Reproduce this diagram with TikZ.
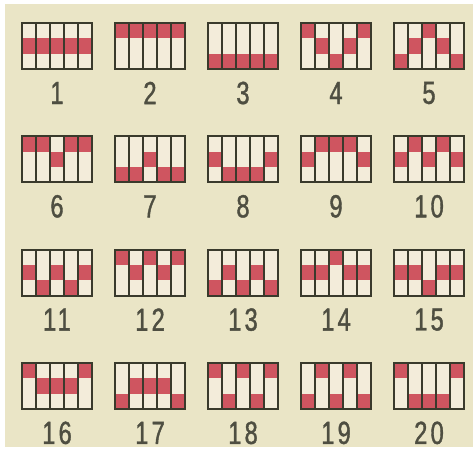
\documentclass[tikz,border=0pt]{standalone}
\usepackage{fontspec}
\newfontfamily\numfont[FakeStretch=0.74,LetterSpace=10,FakeBold=1.2]{Liberation Sans}
\usetikzlibrary{positioning}
\definecolor{paper}{HTML}{EAE5C6}
\definecolor{cellred}{HTML}{CF5560}
\definecolor{cellpale}{HTML}{F3ECDA}
\definecolor{ink}{HTML}{3A3A2C}

\begin{document}
\begin{tikzpicture}[x=1pt,y=-1pt,
  cellbox/.style={draw=ink,line width=1.9pt},
  colline/.style={draw=ink,line width=1.4pt},
  numlabel/.style={font=\numfont\fontsize{32}{32}\selectfont,text=ink!90,inner sep=0pt}]
\useasboundingbox (0,0) rectangle (473,451);
\fill[white] (0,0) rectangle (473,451);
\fill[paper] (5,4) rectangle (473,447);
% one box per pattern: row of the red cell in each column (0 top, 2 bottom)
\foreach \n/\pat in {1/{1,1,1,1,1},2/{0,0,0,0,0},3/{2,2,2,2,2},4/{0,1,2,1,0},5/{2,1,0,1,2},
  6/{0,0,1,0,0},7/{2,2,1,2,2},8/{1,2,2,2,1},9/{1,0,0,0,1},10/{1,0,1,0,1},
  11/{1,2,1,2,1},12/{0,1,0,1,0},13/{2,1,2,1,2},14/{1,1,0,1,1},15/{1,1,2,1,1},
  16/{0,1,1,1,0},17/{2,1,1,1,2},18/{0,2,0,2,0},19/{2,0,2,0,2},20/{0,2,2,2,0}} {
  \pgfmathtruncatemacro\col{mod(\n-1,5)}
  \pgfmathtruncatemacro\row{div(\n-1,5)}
  \pgfmathsetmacro\bx{22+93*\col}
  \pgfmathsetmacro\by{23+113.3*\row}
  \begin{scope}[shift={(\bx,\by)}]
    \fill[cellpale] (0,0) rectangle (70,46);
    \foreach \r [count=\c from 0] in \pat
      \fill[cellred] (14*\c,15.33*\r) rectangle ++(14,15.33);
    \foreach \c in {1,...,4}
      \draw[colline] (14*\c,0) -- (14*\c,46);
    \draw[cellbox] (0,0) rectangle (70,46);
  \end{scope}
  \node[numlabel] (num\n) at (\bx+35,\by+70) {\n};
}
\end{tikzpicture}
\end{document}
